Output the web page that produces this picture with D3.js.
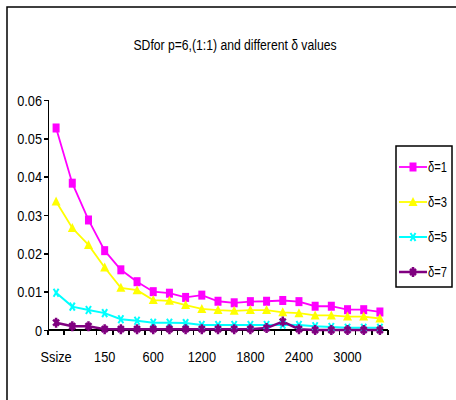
<!DOCTYPE html>
<html lang="en">
<head>
    <meta charset="UTF-8">
    <title>SD chart</title>
    <style>
        body{margin:0;background:#fff;}
        .axis path,.axis line{
            fill:none;
            stroke:black;
            stroke-width:1.5;
            shape-rendering: crispEdges;
        }
        text{font-family:"Liberation Sans",Arial,sans-serif;fill:black;}
    </style>
    <script type="text/javascript" src="https://cdn.jsdelivr.net/npm/d3@7/dist/d3.min.js"></script>
</head>
<body>
    <script>
        var width = 456;
        var height = 400;
        var svg = d3.select("body")
                .append("svg")
                .attr("width",width)
                .attr("height",height)

        // data
        var categories = ["Ssize","50","100","150","300","450","600","800","1000","1200","1400",
                          "1600","1800","2000","2200","2400","2600","2800","3000","3200","3400"];
        var tickLabels = ["Ssize","150","600","1200","1800","2400","3000"];
        var yTicks = [0,0.01,0.02,0.03,0.04,0.05,0.06];
        var seriesNames = ["δ=1","δ=3","δ=5","δ=7"];
        var d1 = [0.0527,0.0383,0.0287,0.0207,0.0157,0.0126,0.0100,0.0096,0.0085,0.0091,0.0075,
                  0.0071,0.0074,0.0075,0.0077,0.0074,0.0062,0.0062,0.0053,0.0053,0.0047];
        var d3v = [0.0335,0.0266,0.0222,0.0163,0.0110,0.0104,0.0078,0.0076,0.0065,0.0055,0.0052,
                   0.0050,0.0052,0.0052,0.0046,0.0044,0.0038,0.0038,0.0035,0.0035,0.0030];
        var d5 = [0.0097,0.0061,0.0052,0.0044,0.0028,0.0024,0.0019,0.0019,0.0018,0.0013,0.0013,
                  0.0013,0.0013,0.0013,0.0014,0.0013,0.0010,0.0008,0.0006,0.0006,0.0006];
        var d7 = [0.0019,0.0010,0.0010,0.0002,0.0002,0.0002,0.0002,0.0002,0.0002,0.0002,0.0002,
                  0.0002,0.0002,0.0005,0.0022,0.0002,0.0000,0.0000,0.0000,0.0000,0.0000];
        var seriesValues = [d1,d3v,d5,d7];
        var colors = ["#ff00ff","#ffff00","#00ffff","#800080"];
        var sx = 0.85;   // 横向压缩文字

        var plot = {left:48,right:388,top:100,bottom:330};

        var xScale = d3.scaleBand()
                .domain(categories)
                .range([plot.left,plot.right])

        var yScale = d3.scaleLinear()
                .domain([0,0.06])
                .range([plot.bottom,plot.top])

        // 外框
        svg.append("rect")
                .attr("x",7).attr("y",7)
                .attr("width",470).attr("height",410)
                .attr("fill","none")
                .attr("stroke","black")
                .attr("stroke-width",1.5)

        // 标题
        svg.append("text")
                .attr("transform","translate(235,50) scale(0.87,1)")
                .attr("text-anchor","middle")
                .attr("font-size",14)
                .text("SDfor p=6,(1:1) and different δ values")

        // y轴
        var yAxis = d3.axisLeft(yScale)
                .tickValues(yTicks)
                .tickSize(4)
                .tickFormat(function(d){ return d===0 ? "0" : d3.format(".2f")(d); })

        var gy = svg.append("g")
                .attr("class","axis")
                .attr("transform","translate("+plot.left+",0)")
                .call(yAxis)
        gy.selectAll("text")
                .attr("font-size",15)
                .attr("x",0)
                .attr("dy","0.35em")
                .attr("transform","translate(-6,0) scale("+sx+",1)")

        // x轴
        var xAxis = d3.axisBottom(xScale)
                .tickSize(0)
                .tickFormat(function(d){ return tickLabels.indexOf(d) >= 0 ? d : ""; })

        var gx = svg.append("g")
                .attr("class","axis")
                .attr("transform","translate(0,"+plot.bottom+")")
                .call(xAxis)
        gx.select(".domain").attr("d","M"+plot.left+",0H"+plot.right)
        gx.selectAll("text")
                .attr("font-size",15)
                .attr("y",0)
                .attr("dy","0")
                .attr("transform","translate(0,32) scale("+sx+",1)")

        // 类别之间的刻度
        var bounds = categories.map(function(d){ return xScale(d); }).concat([plot.right]);
        svg.append("g")
                .selectAll("line")
                .data(bounds)
                .enter()
                .append("line")
                .attr("x1",function(d){ return d; })
                .attr("x2",function(d){ return d; })
                .attr("y1",plot.bottom)
                .attr("y2",plot.bottom+5)
                .attr("stroke","black")
                .attr("stroke-width",1.5)
                .attr("shape-rendering","crispEdges")

        // 标记形状
        function marker(g,k,c){
            if(k===0){
                g.append("rect").attr("x",-3.5).attr("y",-4.5).attr("width",7).attr("height",9).attr("fill",c)
            }else if(k===1){
                g.append("path").attr("d","M0,-5L4.5,4L-4.5,4Z").attr("fill",c)
            }else if(k===2){
                g.append("path").attr("d","M-2.5,-4L2.5,4M2.5,-4L-2.5,4M-1.5,0H1.5").attr("stroke",c).attr("stroke-width",2).attr("fill","none")
            }else{
                g.append("path").attr("d","M0,-5V5M-3,-3L3,3M3,-3L-3,3").attr("stroke",c).attr("stroke-width",2.5).attr("fill","none")
            }
        }

        var line = d3.line()
                .x(function(d,i){ return xScale(categories[i]) + xScale.bandwidth()/2; })
                .y(function(d){ return yScale(d); })

        var widths = [1.8,1.8,2,2.5];
        seriesValues.forEach(function(vals,k){
            svg.append("path")
                    .attr("d",line(vals))
                    .attr("fill","none")
                    .attr("stroke",colors[k])
                    .attr("stroke-width",widths[k])
        })
        seriesValues.forEach(function(vals,k){
            svg.append("g")
                    .selectAll("g")
                    .data(vals)
                    .enter()
                    .append("g")
                    .attr("transform",function(d,i){
                        return "translate("+(xScale(categories[i])+xScale.bandwidth()/2)+","+yScale(d)+")";
                    })
                    .each(function(){ marker(d3.select(this),k,colors[k]); })
        })

        // 图例
        var legend = svg.append("g")
        legend.append("rect")
                .attr("x",396).attr("y",146)
                .attr("width",56).attr("height",141)
                .attr("fill","white")
                .attr("stroke","black")
                .attr("stroke-width",1.5)
        var items = legend.selectAll(".item")
                .data(seriesNames)
                .enter()
                .append("g")
                .attr("class","item")
                .attr("transform",function(d,i){ return "translate(0,"+(167+i*35)+")"; })
        items.append("line")
                .attr("x1",399).attr("x2",427)
                .attr("stroke",function(d,i){ return colors[i]; })
                .attr("stroke-width",function(d,i){ return widths[i]; })
        items.each(function(d,i){
            var g = d3.select(this).append("g").attr("transform","translate(413,0)");
            marker(g,i,colors[i]);
        })
        items.append("text")
                .attr("transform","translate(428,5) scale(0.8,1)")
                .attr("font-size",14)
                .text(function(d){ return d; })

    </script>
</body>
</html>
